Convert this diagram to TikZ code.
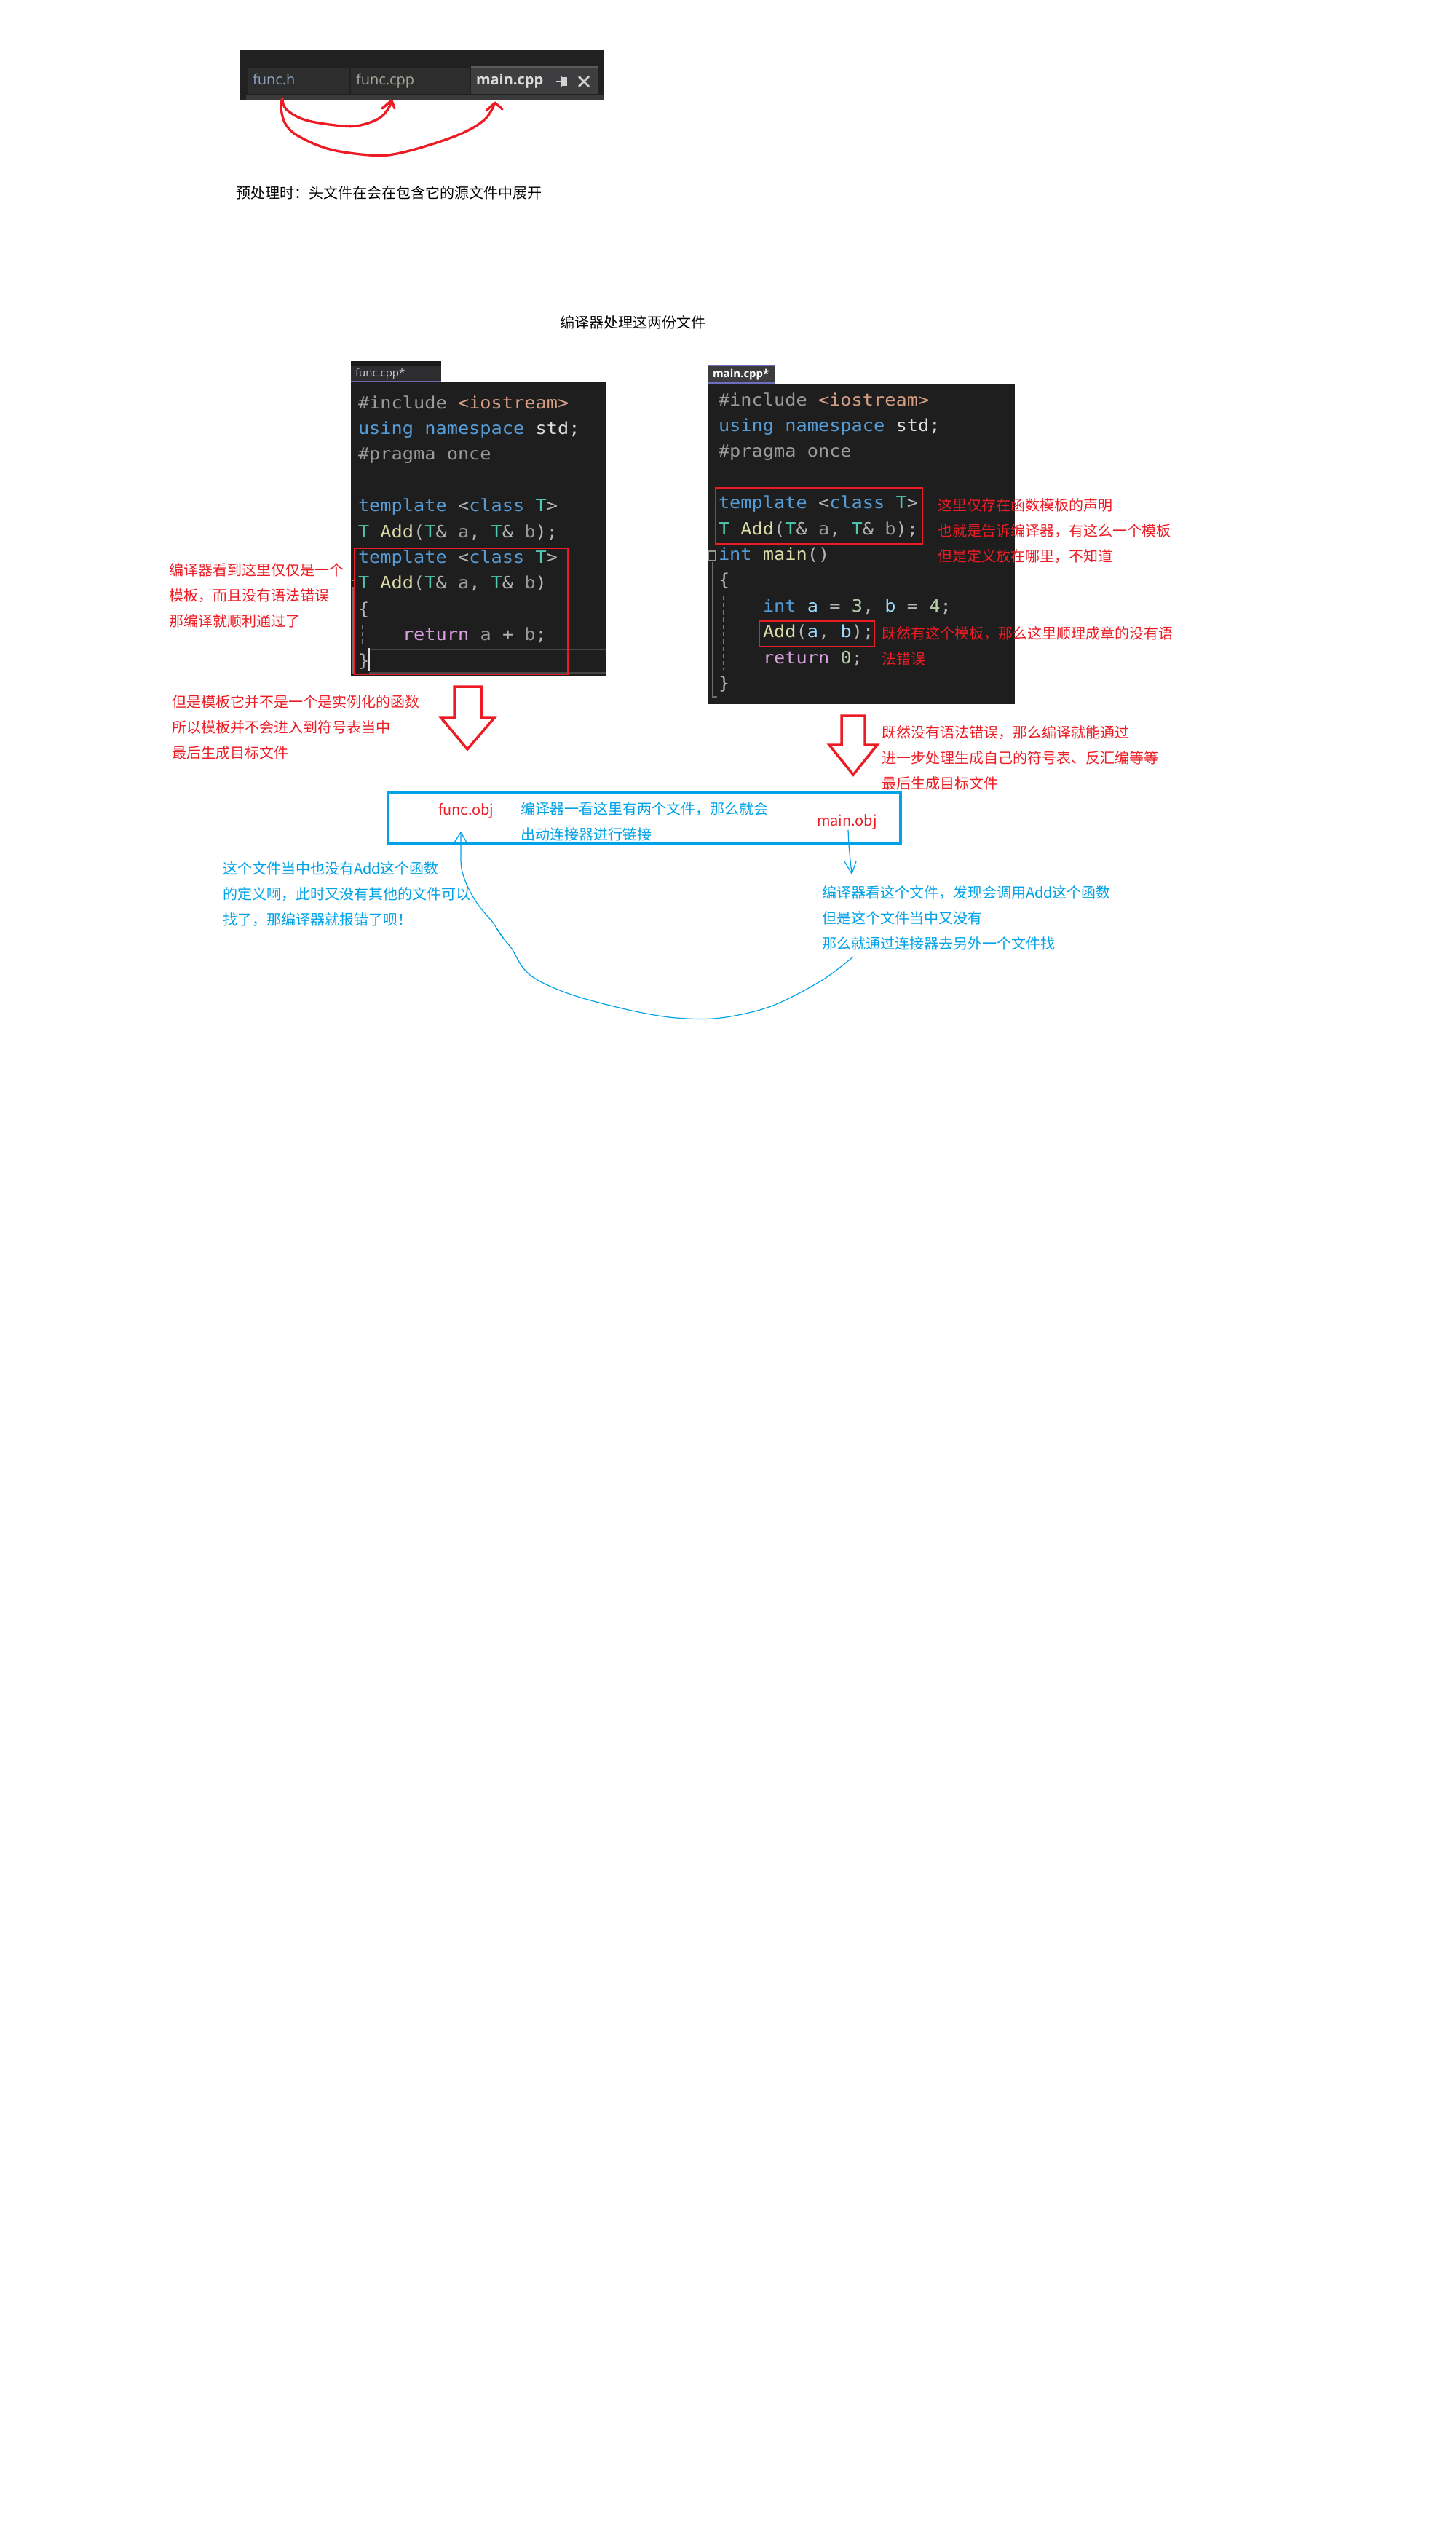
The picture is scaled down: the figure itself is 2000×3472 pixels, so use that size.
\documentclass[tikz,border=0pt]{standalone}
\usepackage{fontspec}
\newfontfamily\cjk{Noto Sans CJK SC}
\newfontfamily\codefont[FakeStretch=1.09]{DejaVu Sans Mono}
\newfontfamily\uifont{Open Sans}
\definecolor{pred}{HTML}{ED1C24}
\definecolor{pblue}{HTML}{00A2E8}
\definecolor{panel}{HTML}{1E1E1E}
\definecolor{cplain}{HTML}{DCDCDC}
\definecolor{cpre}{HTML}{9B9B9B}
\definecolor{cstr}{HTML}{D69D85}
\definecolor{ckey}{HTML}{569CD6}
\definecolor{ctype}{HTML}{4EC9B0}
\definecolor{cfun}{HTML}{DCDCAA}
\definecolor{cpar}{HTML}{9A9A9A}
\definecolor{cvar}{HTML}{9CDCFE}
\definecolor{cnum}{HTML}{B5CEA8}
\definecolor{cctl}{HTML}{D8A0DF}
\definecolor{cpun}{HTML}{B4B4B4}
\definecolor{barbg}{HTML}{212121}
\definecolor{tabbg}{HTML}{2D2D2D}
\definecolor{acttab}{HTML}{3E3E40}
\definecolor{acttop}{HTML}{5A5A5C}
\definecolor{strip}{HTML}{3A3A3A}
\definecolor{tabh}{HTML}{8AA0BD}
\definecolor{tabc}{HTML}{A8A49C}
\definecolor{tabm}{HTML}{DADADA}
\definecolor{icon}{HTML}{D2D2D2}
\definecolor{smtop}{HTML}{1A1A1A}
\definecolor{smtab}{HTML}{2D2D30}
\definecolor{smline}{HTML}{6868AA}
\definecolor{smtxt}{HTML}{C8C8C8}
\definecolor{mtabbg}{HTML}{3C3C3E}
\definecolor{mtabln}{HTML}{6E6EBE}
\definecolor{gA}{HTML}{828282}
\definecolor{gB}{HTML}{6E6E6E}
\definecolor{gC}{HTML}{787878}
\definecolor{gD}{HTML}{464646}
\definecolor{gE}{HTML}{969696}
\newcommand\ccM[1]{\textcolor{cpre}{#1}}
\newcommand\ccS[1]{\textcolor{cstr}{#1}}
\newcommand\ccK[1]{\textcolor{ckey}{#1}}
\newcommand\ccT[1]{\textcolor{ctype}{#1}}
\newcommand\ccF[1]{\textcolor{cfun}{#1}}
\newcommand\ccA[1]{\textcolor{cpar}{#1}}
\newcommand\ccV[1]{\textcolor{cvar}{#1}}
\newcommand\ccN[1]{\textcolor{cnum}{#1}}
\newcommand\ccR[1]{\textcolor{cctl}{#1}}
\newcommand\ccP[1]{\textcolor{cpun}{#1}}
\tikzset{
  every node/.style={inner sep=0pt, outer sep=0pt},
  txt/.style={anchor=base west, font=\cjk\fontsize{10}{12}\selectfont},
  redtxt/.style={txt, text=pred},
  bluetxt/.style={txt, text=pblue},
  blktxt/.style={txt, text=black},
  codeline/.style={anchor=base west, font=\codefont\fontsize{11.6}{14}\selectfont\frenchspacing, text=cplain},
  tabtxt/.style={anchor=base west, font=\uifont\fontsize{10}{12}\selectfont},
  smalltab/.style={anchor=base west, font=\uifont\fontsize{7.5}{9}\selectfont},
  redrect/.style={draw=pred, line width=1.35pt},
  pen/.style={draw=pred, line width=1.65pt, line cap=round, line join=round},
  bluepen/.style={draw=pblue, line width=0.6pt, line cap=round, line join=round},
  blockarrow/.style={draw=pred, line width=1.75pt, line join=miter},
  guide/.style={draw=#1, line width=0.75pt},
}
\begin{document}
\begin{tikzpicture}[x=0.5pt, y=-0.5pt]
\useasboundingbox (0,0) rectangle (2000,3472);
\fill[white] (0,0) rectangle (2000,3472);

% ---------- top tab bar ----------
\fill[barbg] (330,68) rectangle (829,138);
\fill[tabbg] (340,93) rectangle (480,129);
\fill[tabbg] (482,93) rectangle (646,129);
\fill[acttab] (647,91) rectangle (822,129);
\fill[acttop] (647,91) rectangle (822,94);
\fill[strip] (338,131) rectangle (829,138);
\node[tabtxt, text=tabh] (tabh) at (347,117) {func.h};
\node[tabtxt, text=tabc] (tabfc) at (489,117) {func.cpp};
\node[tabtxt, text=tabm, font=\uifont\bfseries\fontsize{10}{12}\selectfont] (tabmc) at (654,117) {main.cpp};
% pin icon and close cross
\draw[draw=icon, line width=1pt] (764,112) -- (771,112) (771,104) -- (771,120);
\fill[icon] (772,106) rectangle (779,118);
\draw[draw=icon, line width=1.3pt] (795,105) -- (809,119) (795,119) -- (809,105);

% red hand-drawn arrows
\coordinate (hstart) at (388,135);
\coordinate (cpptip) at (538,138);
\coordinate (maintip) at (680,141);
\draw[pen] plot[smooth, tension=0.6] coordinates {(hstart) (393,150) (420,165) (470,173) (495,172) (520,163) (533,150) (cpptip)};
\draw[pen] (525,149) -- (cpptip) -- (542,149);
\draw[pen] plot[smooth, tension=0.6] coordinates {(hstart) (386,148) (392,170) (410,187) (453,205) (507,213) (540,212) (587,200) (637,182) (667,163) (maintip)};
\draw[pen] (668,152) -- (maintip) -- (690,150);

\node[blktxt] (pre) at (324,273) {预处理时：头文件在会在包含它的源文件中展开};
\node[blktxt] (title) at (769,451) {编译器处理这两份文件};

% ---------- left code panel (func.cpp) ----------
\fill[smtop] (482,496) rectangle (606,502);
\fill[smtab] (482,502) rectangle (606,525);
\fill[smline] (482,523) rectangle (606,525);
\node[smalltab, text=smtxt] (ftab) at (488,517) {func.cpp*};
\fill[panel] (482,525) rectangle (833,928);
\draw[guide=gA] (483,797) -- (487,797);
\draw[guide=gB] (485,806) -- (485,926);
\draw[guide=gC, dash pattern=on 3pt off 2pt] (498,858) -- (498,888);
\draw[draw=gD, line width=1pt] (507,892) -- (833,892) (507,924) -- (833,924);
\draw[draw=cplain, line width=0.8pt] (507,890) -- (507,922);
\node[codeline] (l0) at (492,561) {\ccM{\#include} \ccS{<iostream>}};
\node[codeline] (l1) at (492,596.4) {\ccK{using} \ccK{namespace} std;};
\node[codeline] (l2) at (492,631.8) {\ccM{\#pragma once}};
\node[codeline] (l4) at (492,702.6) {\ccK{template} \ccP{<}\ccK{class} \ccT{T}\ccP{>}};
\node[codeline] (l5) at (492,738) {\ccT{T} \ccF{Add}\ccP{(}\ccT{T}\ccP{\&} \ccA{a}\ccP{,} \ccT{T}\ccP{\&} \ccA{b}\ccP{);}};
\node[codeline] (l6) at (492,773.4) {\ccK{template} \ccP{<}\ccK{class} \ccT{T}\ccP{>}};
\node[codeline] (l7) at (492,808.8) {\ccT{T} \ccF{Add}\ccP{(}\ccT{T}\ccP{\&} \ccA{a}\ccP{,} \ccT{T}\ccP{\&} \ccA{b}\ccP{)}};
\node[codeline] (l8) at (492,844.2) {\ccP{\{}};
\node[codeline] (l9) at (553,879.6) {\ccR{return} \ccA{a} \ccP{+} \ccA{b}\ccP{;}};
\node[codeline] (l10) at (492,915) {\ccP{\}}};
\draw[redrect] (487,753) rectangle (780,926);

% ---------- right code panel (main.cpp) ----------
\fill[mtabbg] (973,501) rectangle (1065,527);
\fill[mtabln] (973,501) rectangle (1065,503);
\fill[mtabln] (973,525) rectangle (1065,527);
\node[smalltab, text=white, font=\uifont\bfseries\fontsize{7.5}{9}\selectfont] (mtab) at (979,518) {main.cpp*};
\fill[panel] (973,527) rectangle (1394,967);
\draw[draw=gE, line width=0.6pt] (973,757) rectangle (983,770);
\draw[draw=gE, line width=0.6pt] (975.5,763.5) -- (980.5,763.5);
\draw[guide=gB] (979,772) -- (979,957) -- (985,957);
\draw[guide=gC, dash pattern=on 3pt off 2pt] (994,818) -- (994,920);
\node[codeline] (r0) at (987,557) {\ccM{\#include} \ccS{<iostream>}};
\node[codeline] (r1) at (987,592.4) {\ccK{using} \ccK{namespace} std;};
\node[codeline] (r2) at (987,627.8) {\ccM{\#pragma once}};
\node[codeline] (r4) at (987,698.6) {\ccK{template} \ccP{<}\ccK{class} \ccT{T}\ccP{>}};
\node[codeline] (r5) at (987,734) {\ccT{T} \ccF{Add}\ccP{(}\ccT{T}\ccP{\&} \ccA{a}\ccP{,} \ccT{T}\ccP{\&} \ccA{b}\ccP{);}};
\node[codeline] (r6) at (987,769.4) {\ccK{int} \ccF{main}\ccP{()}};
\node[codeline] (r7) at (987,804.8) {\ccP{\{}};
\node[codeline] (r8) at (1048,840.2) {\ccK{int} \ccV{a} \ccP{=} \ccN{3}\ccP{,} \ccV{b} \ccP{=} \ccN{4}\ccP{;}};
\node[codeline] (r9) at (1048,875.6) {\ccF{Add}\ccP{(}\ccV{a}\ccP{,} \ccV{b}\ccP{);}};
\node[codeline] (r10) at (1048,911) {\ccR{return} \ccN{0}\ccP{;}};
\node[codeline] (r11) at (987,946.4) {\ccP{\}}};
\draw[redrect] (983,670) rectangle (1267,747);
\draw[redrect] (1043,853) rectangle (1201,888);

% ---------- annotations ----------
\node[redtxt] (la1) at (232,790) {编译器看到这里仅仅是一个};
\node[redtxt] (la2) at (232,825) {模板，而且没有语法错误};
\node[redtxt] (la3) at (232,860) {那编译就顺利通过了};

\node[redtxt] (ra1) at (1288,701) {这里仅存在函数模板的声明};
\node[redtxt] (ra2) at (1288,736) {也就是告诉编译器，有这么一个模板};
\node[redtxt] (ra3) at (1288,771) {但是定义放在哪里，不知道};

\node[redtxt] (rb1) at (1211,877) {既然有这个模板，那么这里顺理成章的没有语};
\node[redtxt] (rb2) at (1211,912) {法错误};

\node[redtxt] (lc1) at (236,971) {但是模板它并不是一个是实例化的函数};
\node[redtxt] (lc2) at (236,1006) {所以模板并不会进入到符号表当中};
\node[redtxt] (lc3) at (236,1041) {最后生成目标文件};

\node[redtxt] (rc1) at (1211,1013) {既然没有语法错误，那么编译就能通过};
\node[redtxt] (rc2) at (1211,1048) {进一步处理生成自己的符号表、反汇编等等};
\node[redtxt] (rc3) at (1211,1083) {最后生成目标文件};

% hollow block arrows
\draw[blockarrow] (624,943) -- (661,943) -- (661,986) -- (679,986) -- (642,1029) -- (606,986) -- (624,986) -- cycle;
\draw[blockarrow] (1156,983) -- (1188,983) -- (1188,1023) -- (1205,1023) -- (1172,1064) -- (1139,1023) -- (1156,1023) -- cycle;

% ---------- linker box ----------
\draw[draw=pblue, line width=1.65pt] (533,1089) rectangle (1237,1158);
\node[redtxt] (fobj) at (602,1119) {func.obj};
\node[bluetxt] (bx1) at (715,1118) {编译器一看这里有两个文件，那么就会};
\node[bluetxt] (bx2) at (715,1153) {出动连接器进行链接};
\node[redtxt] (mobj) at (1122,1134) {main.obj};

% blue notes
\node[bluetxt] (bl1) at (306,1200) {这个文件当中也没有Add这个函数};
\node[bluetxt] (bl2) at (306,1235) {的定义啊，此时又没有其他的文件可以};
\node[bluetxt] (bl3) at (306,1270) {找了，那编译器就报错了呗！};

\node[bluetxt] (br1) at (1129,1233) {编译器看这个文件，发现会调用Add这个函数};
\node[bluetxt] (br2) at (1129,1268) {但是这个文件当中又没有};
\node[bluetxt] (br3) at (1129,1303) {那么就通过连接器去另外一个文件找};

% blue connectors
\coordinate (mdown) at (1165,1140);
\coordinate (mtip) at (1170,1200);
\draw[bluepen] plot[smooth] coordinates {(mdown) (1166,1160) (1168,1182) (mtip)};
\draw[bluepen] (1160,1183) -- (mtip) -- (1176,1183);

\coordinate (ftip) at (633,1143);
\coordinate (cstart) at (1172,1314);
\draw[bluepen] plot[smooth, tension=0.55] coordinates {(cstart) (1128,1347) (1059,1382) (990,1398) (929,1398) (868,1388) (791,1368) (742,1348) (719,1330) (703,1303) (690,1287) (677,1267) (657,1243) (642,1217) (634,1193) (633,1170) (ftip)};
\draw[bluepen] (624,1157) -- (ftip) -- (641,1157);
\draw[bluepen] (682,1275) -- (691,1288);
\end{tikzpicture}
\end{document}
